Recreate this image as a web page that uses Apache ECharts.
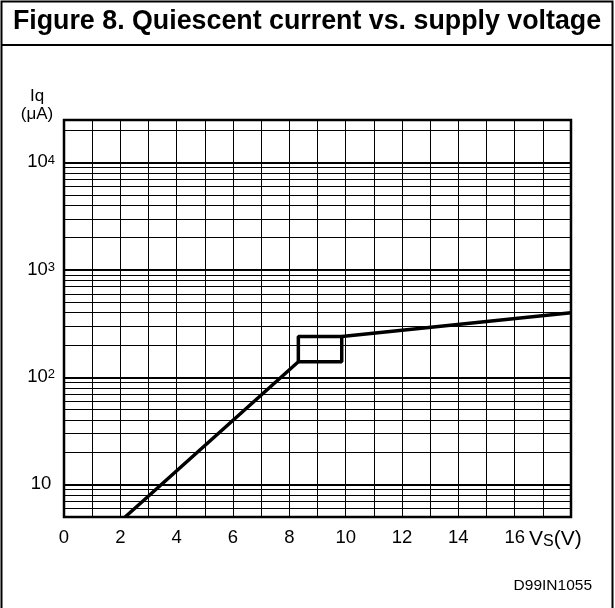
<!DOCTYPE html>
<html><head><meta charset="utf-8">
<script src="https://cdn.jsdelivr.net/npm/echarts@6/dist/echarts.min.js"></script>
<style>html,body{margin:0;padding:0;background:#fff}#c{width:615px;height:608px}</style>
</head><body><div id="c"></div>
<script>
// Tick labels / categories
const xTickValues = [0, 2, 4, 6, 8, 10, 12, 14, 16];
const yDecades = [10, 100, 1000, 10000];
const yMinorGrid = [6, 7, 8, 9, 20, 30, 40, 50, 60, 70, 80, 90,
  200, 300, 400, 500, 600, 700, 800, 900,
  2000, 3000, 4000, 5000, 6000, 7000, 8000, 9000, 20000];
// Curve: Vs (V) vs Iq (uA)
const curveMain = [[2.17, 5], [8.32, 140], [8.32, 240], [9.86, 240], [18, 400]];
const curveBox = [[8.32, 140], [9.86, 140], [9.86, 240]];

const FONT = 'Liberation Sans, Arial, sans-serif';
const chart = echarts.init(document.getElementById('c'), null, {renderer: 'canvas'});
chart.setOption({
  animation: false,
  backgroundColor: '#fff',
  grid: {left: 64, right: 44, top: 120, bottom: 91, show: true, borderColor: '#000', borderWidth: 2.5, backgroundColor: 'transparent'},
  xAxis: {
    type: 'value', min: 0, max: 18, interval: 1,
    axisLine: {show: false}, axisTick: {show: false},
    splitLine: {show: true, lineStyle: {color: '#000', width: 1}},
    axisLabel: {
      margin: 11, color: '#000', fontFamily: FONT, fontSize: 18.5,
      formatter: v => xTickValues.indexOf(v) >= 0 ? String(v) : ''
    }
  },
  yAxis: {
    type: 'log', logBase: 10, min: 5, max: 25000, splitNumber: 4,
    axisLine: {show: false}, axisTick: {show: false},
    splitLine: {show: true, lineStyle: {color: '#000', width: 2}},
    axisLabel: {
      margin: 9, color: '#000', fontFamily: FONT,
      formatter: v => {
        const e = Math.round(Math.log10(v));
        if (Math.abs(Math.pow(10, e) - v) > 1e-6 * v) return '';
        if (yDecades.indexOf(Math.pow(10, e)) < 0) return '';
        if (e === 1) return '{b|10}{n| }';
        return '{b|10}{s|' + e + '}';
      },
      rich: {
        b: {fontSize: 18.5, fontFamily: FONT, color: '#000', lineHeight: 18, verticalAlign: 'bottom', padding: [6, 0, 0, 0]},
        s: {fontSize: 13, fontFamily: FONT, color: '#000', lineHeight: 13, verticalAlign: 'top', padding: [0, 0, 11, 0]},
        n: {fontSize: 13, fontFamily: FONT, color: '#000', lineHeight: 13, padding: [0, 0, 11, 0]}
      }
    }
  },
  series: [
    {
      type: 'line', data: [], z: 1, silent: true,
      markLine: {
        silent: true, symbol: ['none', 'none'], label: {show: false},
        lineStyle: {color: '#000', width: 1, type: 'solid'},
        data: yMinorGrid.map(v => ({yAxis: v}))
      }
    },
    {
      type: 'line', data: curveMain, z: 5, symbol: 'none',
      lineStyle: {color: '#000', width: 3.5}
    },
    {
      type: 'line', data: curveBox, z: 5, symbol: 'none',
      lineStyle: {color: '#000', width: 3.5}
    }
  ],
  graphic: [
    {type: 'rect', shape: {x: 1.5, y: 1.5, width: 611, height: 620}, style: {fill: 'none', stroke: '#000', lineWidth: 2}, silent: true},
    {type: 'line', shape: {x1: 1, y1: 45, x2: 613, y2: 45}, style: {stroke: '#000', lineWidth: 2}, silent: true},
    {type: 'text', x: 307, y: 22, style: {text: 'Figure 8. Quiescent current vs. supply voltage', font: 'bold 26.8px ' + FONT, fill: '#000', textAlign: 'center', textVerticalAlign: 'middle'}},
    {type: 'text', x: 37, y: 96, style: {text: 'Iq', font: '17px ' + FONT, fill: '#000', textAlign: 'center', textVerticalAlign: 'middle'}},
    {type: 'text', x: 37, y: 114, style: {text: '(\u03bcA)', font: '17px ' + FONT, fill: '#000', textAlign: 'center', textVerticalAlign: 'middle'}},
    {type: 'text', x: 529, y: 539, style: {
      text: '{v|V}{s|S}{v|(V)}', textVerticalAlign: 'middle',
      rich: {
        v: {fontSize: 21, fontFamily: FONT, fill: '#000', color: '#000', verticalAlign: 'top', lineHeight: 21, padding: [0, 0, 6, 0]},
        s: {fontSize: 16, fontFamily: FONT, fill: '#000', color: '#000', verticalAlign: 'bottom', lineHeight: 16, padding: [8, 0, 0, 0]}
      }
    }},
    {type: 'text', x: 592, y: 586, style: {text: 'D99IN1055', font: '15.5px ' + FONT, fill: '#000', textAlign: 'right', textVerticalAlign: 'middle'}}
  ]
});
</script></body></html>
